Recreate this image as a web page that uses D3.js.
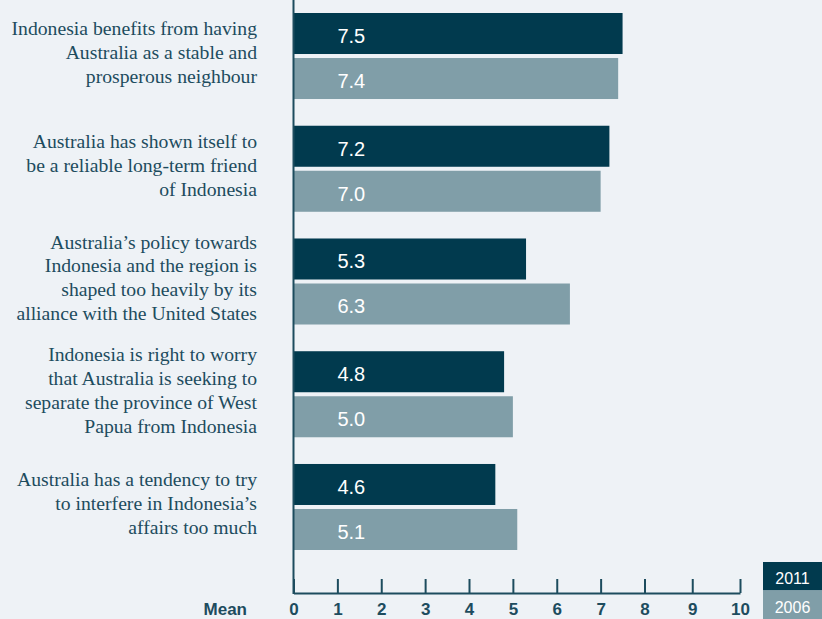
<!DOCTYPE html>
<html>
<head>
<meta charset="utf-8">
<script src="https://cdn.jsdelivr.net/npm/d3@7"></script>
<style>
  html, body { margin: 0; padding: 0; background: #eef2f6; }
  svg { display: block; }
</style>
</head>
<body>
<script>
// statements (each is a list of label lines)
var statements = [
  ["Indonesia benefits from having", "Australia as a stable and", "prosperous neighbour"],
  ["Australia has shown itself to", "be a reliable long-term friend", "of Indonesia"],
  ["Australia\u2019s policy towards", "Indonesia and the region is", "shaped too heavily by its", "alliance with the United States"],
  ["Indonesia is right to worry", "that Australia is seeking to", "separate the province of West", "Papua from Indonesia"],
  ["Australia has a tendency to try", "to interfere in Indonesia\u2019s", "affairs too much"]
];
var years = ["2011", "2006"];
var mean2011 = [7.5, 7.2, 5.3, 4.8, 4.6];
var mean2006 = [7.4, 7.0, 6.3, 5.0, 5.1];
var xTicks = [0, 1, 2, 3, 4, 5, 6, 7, 8, 9, 10];

var width = 822, height = 619;
var colors = { "2011": "#013a4e", "2006": "#809ea8" };
var ink = "#1d4c5e";

var data = statements.map(function (s, i) {
  return { id: i, lines: s, values: [
    { year: "2011", value: mean2011[i] },
    { year: "2006", value: mean2006[i] }
  ] };
});

var svg = d3.select("body").append("svg")
  .attr("width", width)
  .attr("height", height)
  .style("background", "#eef2f6");

// x scale (the printed axis stretches a little past 8)
var x = d3.scaleLinear().domain([0, 8, 10]).range([293.5, 644.5, 740]);

// group and series bands
var y0 = d3.scaleBand()
  .domain(data.map(function (d) { return d.id; }))
  .range([13, 550])
  .paddingInner(0.237)
  .paddingOuter(0);

var y1 = d3.scaleBand()
  .domain(years)
  .range([0, y0.bandwidth()])
  .paddingInner(0.089);

var groups = svg.selectAll("g.group")
  .data(data)
  .enter().append("g")
  .attr("class", "group")
  .attr("transform", function (d) { return "translate(0," + y0(d.id) + ")"; });

groups.selectAll("rect")
  .data(function (d) { return d.values; })
  .enter().append("rect")
  .attr("x", x(0))
  .attr("y", function (d) { return y1(d.year); })
  .attr("width", function (d) { return x(d.value) - x(0); })
  .attr("height", y1.bandwidth())
  .attr("fill", function (d) { return colors[d.year]; });

groups.selectAll("text.val")
  .data(function (d) { return d.values; })
  .enter().append("text")
  .attr("class", "val")
  .attr("x", x(1))
  .attr("y", function (d) { return y1(d.year) + 30; })
  .attr("fill", "#ffffff")
  .style("font-family", "'Liberation Sans', Arial, sans-serif")
  .style("font-size", "20px")
  .text(function (d) { return d3.format(".1f")(d.value); });

// statement labels
groups.each(function (d) {
  var n = d.lines.length;
  var c = y0.bandwidth() / 2;
  d3.select(this).selectAll("text.lab")
    .data(d.lines)
    .enter().append("text")
    .attr("class", "lab")
    .attr("x", 257)
    .attr("y", function (t, i) { return c + (i - (n - 1) / 2) * 24 + 3; })
    .attr("text-anchor", "end")
    .attr("fill", ink)
    .style("font-family", "'Liberation Serif', 'Times New Roman', serif")
    .style("font-size", "19.7px")
    .text(function (t) { return t; });
});

// y axis line
svg.append("line")
  .attr("x1", x(0)).attr("x2", x(0))
  .attr("y1", 0).attr("y2", 594)
  .attr("stroke", ink)
  .attr("stroke-width", 2);

// x axis
var xAxis = svg.append("g")
  .attr("transform", "translate(0,593)")
  .call(d3.axisBottom(x).tickValues(xTicks).tickSizeInner(-14).tickSizeOuter(0).tickPadding(10));

xAxis.select(".domain").attr("stroke", ink).attr("stroke-width", 2);
xAxis.selectAll(".tick line").attr("stroke", ink).attr("stroke-width", 2);
xAxis.selectAll(".tick text")
  .attr("fill", ink)
  .style("font-family", "'Liberation Sans', Arial, sans-serif")
  .style("font-size", "17px")
  .style("font-weight", "bold");

svg.append("text")
  .attr("x", 247)
  .attr("y", 615)
  .attr("text-anchor", "end")
  .attr("fill", ink)
  .style("font-family", "'Liberation Sans', Arial, sans-serif")
  .style("font-size", "17px")
  .style("font-weight", "bold")
  .text("Mean");

// legend
var legend = svg.selectAll("g.legend")
  .data(years)
  .enter().append("g")
  .attr("class", "legend")
  .attr("transform", function (d, i) { return "translate(763," + (562 + i * 28.5) + ")"; });

legend.append("rect")
  .attr("width", 59)
  .attr("height", 28.5)
  .attr("fill", function (d) { return colors[d]; });

legend.append("text")
  .attr("x", 29.5)
  .attr("y", 22)
  .attr("text-anchor", "middle")
  .attr("fill", "#ffffff")
  .style("font-family", "'Liberation Sans', Arial, sans-serif")
  .style("font-size", "16px")
  .text(function (d) { return d; });
</script>
</body>
</html>
